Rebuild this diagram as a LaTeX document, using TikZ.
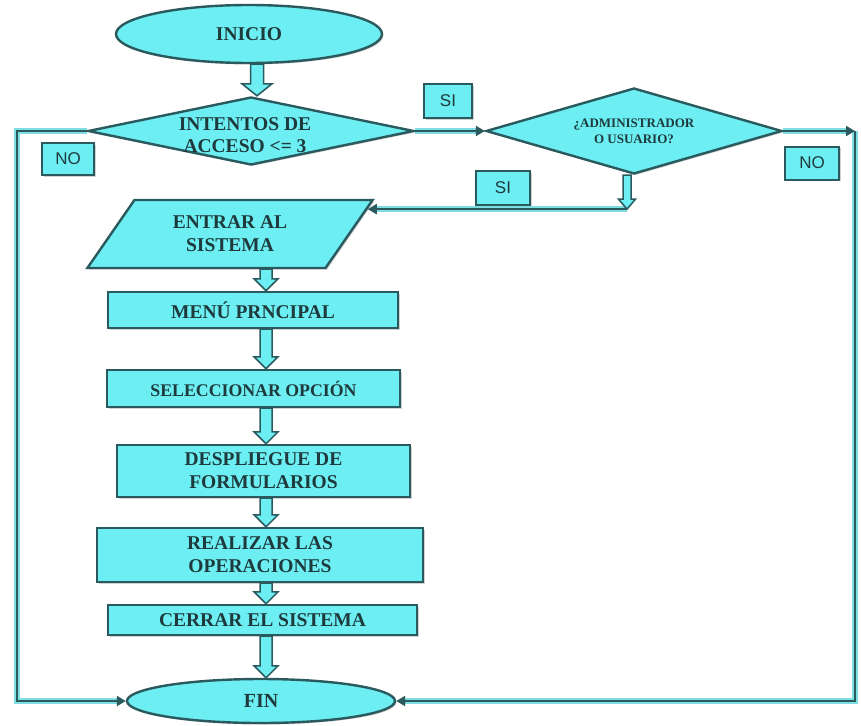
\documentclass[tikz,border=0pt]{standalone}
\usepackage{fontspec}
\setmainfont{Liberation Serif}
\setsansfont{Liberation Sans}
\usetikzlibrary{shapes.geometric,arrows.meta,calc,shadows}
\definecolor{boxfill}{HTML}{6CEEF3}
\definecolor{edge}{HTML}{2A5A5E}
\definecolor{ink}{HTML}{1E3A3C}
\definecolor{pipeglow}{HTML}{7FDCE0}
\begin{document}
\begin{tikzpicture}[x=1pt,y=-1pt,
  softshadow/.style={drop shadow={shadow xshift=1.5pt,shadow yshift=-1.5pt,opacity=0.3,fill=black!60}},
  base/.style={draw=edge, fill=boxfill, line width=2.4pt, text=ink, inner sep=0pt,
    align=center, font=\bfseries\fontsize{19.5}{23}\selectfont, softshadow},
  terminal/.style={base, ellipse},
  decision/.style={base, diamond},
  io/.style={base, trapezium, trapezium left angle=52, trapezium right angle=128,
    trapezium stretches=true},
  process/.style={base, rectangle},
  answer/.style={draw=edge, fill=boxfill, line width=2pt, text=ink, inner sep=0pt,
    font=\sffamily\fontsize{17}{17}\selectfont, softshadow},
  blockarrow/.style n args={3}{draw=edge, fill=boxfill, line width=1.5pt, line join=miter,
    to path={let \p1=(\tikztostart), \p2=(\tikztotarget) in
      (\x1-#1,\y1) -- (\x1-#1,\y2+#3) -- (\x1-#2,\y2+#3) -- (\x1,\y2)
      -- (\x1+#2,\y2+#3) -- (\x1+#1,\y2+#3) -- (\x1+#1,\y1) -- cycle}},
  pipearrow/.style={draw=edge, line width=2.4pt, line join=miter,
    -{Triangle[length=9pt,width=10pt]},
    preaction={draw=pipeglow, line width=6.5pt, arrows=-, shorten >=7pt}},
]
\useasboundingbox (0,0) rectangle (861,725);

% shapes of the flow
\node[terminal, minimum width=266pt, minimum height=58pt] (ini) at (249,34) {INICIO};
\node[decision, minimum width=326pt, minimum height=68pt,
  label={[yshift=-4pt, xshift=-6pt, text=ink, align=center,
    font=\bfseries\fontsize{19.5}{22}\selectfont]center:INTENTOS DE\\ACCESO <= 3}]
  (d1) at (251,131) {};
\node[decision, minimum width=296pt, minimum height=86pt, shape aspect=3.4,
  font=\bfseries\fontsize{13}{16}\selectfont] (d2) at (634,131)
  {¿ADMINISTRADOR\\O USUARIO?};
\node[io, minimum width=286pt, minimum height=68pt] (ent) at (230,234) {ENTRAR AL\\SISTEMA};
\node[process, minimum width=290pt, minimum height=36pt] (men) at (253,310) {MENÚ PRNCIPAL};
\node[process, minimum width=293pt, minimum height=37pt,
  font=\bfseries\fontsize{17.8}{21}\selectfont] (sel) at (253.5,388.5) {SELECCIONAR OPCIÓN};
\node[process, minimum width=293pt, minimum height=52pt] (des) at (263.5,471)
  {DESPLIEGUE DE\\FORMULARIOS};
\node[process, minimum width=326pt, minimum height=54pt] (rea) at (260,555)
  {REALIZAR LAS\\OPERACIONES};
\node[process, minimum width=309pt, minimum height=30pt] (cer) at (262.5,620) {CERRAR EL SISTEMA};
\node[terminal, minimum width=268pt, minimum height=44pt,
  font=\bfseries\fontsize{20}{22}\selectfont] (fin) at (261,701) {FIN};

% answer labels
\node[answer, minimum width=52pt, minimum height=32pt] (no1) at (68,159) {NO};
\node[answer, minimum width=48pt, minimum height=34pt] (si1) at (448,101) {SI};
\node[answer, minimum width=54pt, minimum height=34pt] (si2) at (503,188) {SI};
\node[answer, minimum width=54pt, minimum height=33pt] (no2) at (812,163) {NO};

% helper points
\coordinate (axA) at (257,0);
\coordinate (axB) at (266,0);
\coordinate (axC) at (627,0);
\coordinate (entR) at ($(ent.top right corner)!0.147!(ent.bottom right corner)$);
\coordinate (j) at (entR -| axC);
\coordinate (cL) at (17,701);
\coordinate (cR) at (855,131);

% loop-back lines
\draw[pipearrow] (d1.west) -| (cL) -- (fin.west);
\draw[pipearrow] (cR) |- (fin.east);
\draw[pipearrow] (d2.east) -- (cR);
\draw[pipearrow] (d1.east) -- (d2.west);
\draw[pipearrow] (j) -- (entR);

% block arrows down the main flow
\path[blockarrow={6.5pt}{15pt}{12pt}] (ini.south -| axA) to (d1.north -| axA);
\path[blockarrow={4pt}{8.5pt}{10pt}] (d2.south -| axC) to (j);
\path[blockarrow={6pt}{12pt}{12pt}] (ent.bottom side -| axB) to (men.north -| axB);
\path[blockarrow={6pt}{12pt}{12pt}] (men.south -| axB) to (sel.north -| axB);
\path[blockarrow={6pt}{12pt}{12pt}] (sel.south -| axB) to (des.north -| axB);
\path[blockarrow={6pt}{12pt}{12pt}] (des.south -| axB) to (rea.north -| axB);
\path[blockarrow={6pt}{12pt}{12pt}] (rea.south -| axB) to (cer.north -| axB);
\path[blockarrow={6pt}{12pt}{12pt}] (cer.south -| axB) to (fin.north -| axB);
\end{tikzpicture}
\end{document}
